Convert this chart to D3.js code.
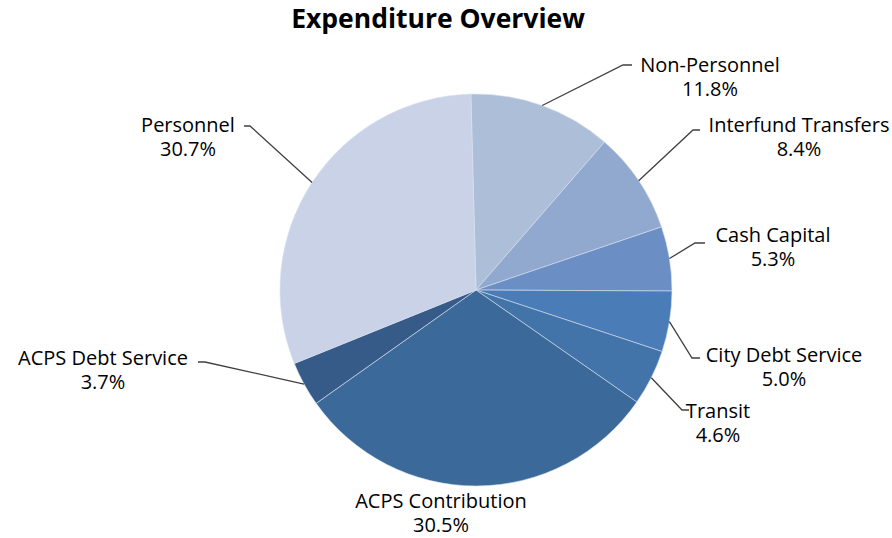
<!DOCTYPE html>
<html>
<head>
<meta charset="utf-8">
<script src="https://cdn.jsdelivr.net/npm/d3@7"></script>
<style>
  body { margin: 0; background: #fff; }
  text { font-family: "Open Sans", sans-serif; fill: #000; }
</style>
</head>
<body>
<svg id="chart"></svg>
<script>
const categories = ["Non-Personnel", "Interfund Transfers", "Cash Capital", "City Debt Service",
                    "Transit", "ACPS Contribution", "ACPS Debt Service", "Personnel"];
const shares = [11.8, 8.4, 5.3, 5.0, 4.6, 30.5, 3.7, 30.7];
const colors = ["#adbed9", "#91a9cf", "#6b8ec4", "#4a7db8", "#4274aa", "#3b6999", "#365b88", "#c9d2e6"];

// label placement: first baseline position + leader elbow and end (null = no leader)
const labelLayout = {
  "Non-Personnel":       { x: 710, y: 72,  elbow: [623, 65],  end: [632, 65] },
  "Interfund Transfers": { x: 799, y: 132, elbow: [693, 130], end: [700, 130] },
  "Cash Capital":        { x: 773, y: 242, elbow: [695, 243], end: [705, 243] },
  "City Debt Service":   { x: 784, y: 362, elbow: [692, 358], end: [700, 358] },
  "Transit":             { x: 718, y: 418, elbow: [682, 410], end: [689, 410] },
  "ACPS Contribution":   { x: 441, y: 508, elbow: null,       end: null },
  "ACPS Debt Service":   { x: 103, y: 365, elbow: [205, 362], end: [198, 362] },
  "Personnel":           { x: 188, y: 132, elbow: [250, 126], end: [244, 126] }
};

const width = 892, height = 538;
const cx = 476, cy = 290, radius = 196;
const offset = -1.5 * Math.PI / 180;

const svg = d3.select("#chart").attr("width", width).attr("height", height);

svg.append("text")
  .attr("x", 438).attr("y", 28)
  .attr("text-anchor", "middle")
  .attr("font-size", 26.5).attr("font-weight", "bold")
  .text("Expenditure Overview");

const data = categories.map((c, i) => ({ name: c, value: shares[i], color: colors[i] }));

const pie = d3.pie().value(d => d.value).sort(null)
  .startAngle(offset).endAngle(offset + 2 * Math.PI);
const arcs = pie(data);
const arc = d3.arc().innerRadius(0).outerRadius(radius);

const g = svg.append("g").attr("transform", `translate(${cx},${cy})`);

g.selectAll("path.slice")
  .data(arcs)
  .enter()
  .append("path")
  .attr("class", "slice")
  .attr("d", arc)
  .attr("fill", d => d.data.color)
  .attr("stroke", "#d8e0ee")
  .attr("stroke-width", 0.6);

// leader lines
arcs.forEach(a => {
  const lay = labelLayout[a.data.name];
  if (!lay.elbow) return;
  const mid = (a.startAngle + a.endAngle) / 2;
  const px = cx + radius * Math.sin(mid);
  const py = cy - radius * Math.cos(mid);
  svg.append("polyline")
    .attr("points", [[px, py], lay.elbow, lay.end].map(p => p.join(",")).join(" "))
    .attr("fill", "none")
    .attr("stroke", "#404040")
    .attr("stroke-width", 1.3);
});

// labels
arcs.forEach(a => {
  const lay = labelLayout[a.data.name];
  const t = svg.append("text")
    .attr("text-anchor", "middle")
    .attr("font-size", 20);
  t.append("tspan").attr("x", lay.x).attr("y", lay.y).text(a.data.name);
  t.append("tspan").attr("x", lay.x).attr("y", lay.y + 24).text(a.data.value.toFixed(1) + "%");
});
</script>
</body>
</html>
